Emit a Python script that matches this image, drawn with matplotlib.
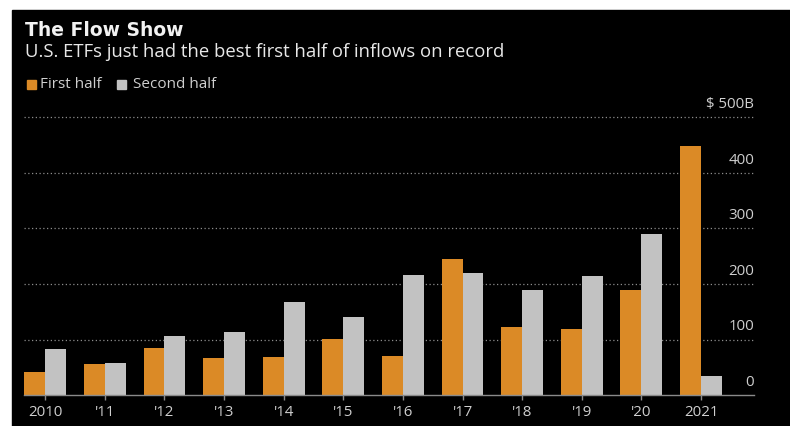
import matplotlib
matplotlib.use("Agg")
import matplotlib.pyplot as plt
from matplotlib.patches import Rectangle
import numpy as np

# ETF inflows, $B
years = ["2010", "'11", "'12", "'13", "'14", "'15", "'16", "'17", "'18", "'19", "'20", "2021"]
first_half = [41, 56, 84, 67, 69, 101, 71, 245, 123, 119, 189, 449]
second_half = [82, 58, 106, 114, 168, 140, 217, 219, 190, 215, 290, 34]
y_ticks = [0, 100, 200, 300, 400, 500]
y_labels = ["0", "100", "200", "300", "400", "$ 500B"]

ORANGE = "#db8a26"
GREY = "#c2c2c2"
TEXT = "#cfcfcf"
W, H = 790, 426

plt.rcParams["font.family"] = ["Open Sans", "DejaVu Sans"]

fig = plt.figure(figsize=(W / 100, H / 100), dpi=100, facecolor="white")
fig.patches.append(Rectangle((12 / W, 0), (W - 12) / W, (H - 10) / H,
                             transform=fig.transFigure, color="black", zorder=-10))


def fx(x):
    return x / W


def fy(y):
    return 1 - y / H


fig.text(fx(25), fy(30), "The Flow Show", color="#f2f2f2", fontsize=13.5,
         fontweight="bold", family="DejaVu Sans", va="center", ha="left")
fig.text(fx(25), fy(52), "U.S. ETFs just had the best first half of inflows on record",
         color="#e8e8e8", fontsize=13.3, va="center", ha="left")

# legend
fig.patches.append(Rectangle((fx(27), fy(88.5)), 9 / W, 9 / H, transform=fig.transFigure,
                             color=ORANGE))
fig.text(fx(40), fy(84), "First half", color=TEXT, fontsize=11, va="center", ha="left")
fig.patches.append(Rectangle((fx(117), fy(88.5)), 9 / W, 9 / H, transform=fig.transFigure,
                             color=GREY))
fig.text(fx(133), fy(84), "Second half", color=TEXT, fontsize=11, va="center", ha="left")

ax = fig.add_axes([fx(24), fy(395), (754 - 24) / W, (395 - 117.5) / H])
ax.set_facecolor("black")

x = np.arange(len(years))
bw = 0.35
ax.bar(x - bw / 2, first_half, width=bw, color=ORANGE, zorder=3)
ax.bar(x + bw / 2, second_half, width=bw, color=GREY, zorder=3)

ax.set_xlim(-0.357, 11.89)
ax.set_ylim(0, 500)

for v in y_ticks[1:]:
    ax.axhline(v, color="#8c8c8c", lw=0.9, ls=(0, (1, 2)), zorder=1, clip_on=False)

for v, lab in zip(y_ticks, y_labels):
    ax.annotate(lab, xy=(1, v), xycoords=("axes fraction", "data"),
                xytext=(0, 6.5), textcoords="offset points",
                ha="right", va="baseline", color=TEXT, fontsize=10.8,
                annotation_clip=False)

for s in ["top", "left", "right"]:
    ax.spines[s].set_visible(False)
ax.spines["bottom"].set_color("#8a8a8a")
ax.spines["bottom"].set_linewidth(1.0)
ax.spines["bottom"].set_zorder(4)

ax.set_yticks([])
ax.set_xticks(x)
ax.set_xticklabels(years)
ax.tick_params(axis="x", colors="#8a8a8a", labelcolor=TEXT, length=3.5, width=1,
               pad=4, labelsize=10.8)

fig.savefig("out.png", dpi=100, facecolor=fig.get_facecolor())
